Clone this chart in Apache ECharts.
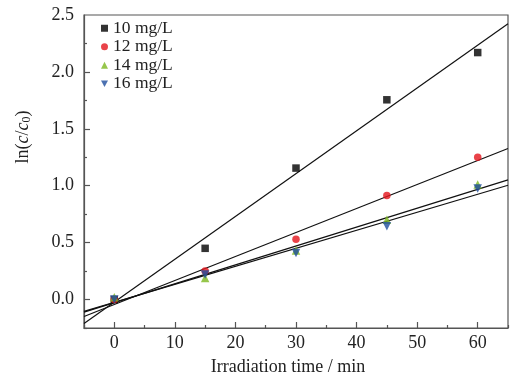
<!DOCTYPE html>
<html>
<head>
<meta charset="utf-8">
<script src="https://cdn.jsdelivr.net/npm/echarts@6/dist/echarts.min.js"></script>
<style>html,body{margin:0;padding:0;background:#fff}#c{width:529px;height:384px}</style>
</head>
<body>
<div id="c"></div>
<script>
var times = [0, 15, 30, 45, 60];
var seriesNames = ['10 mg/L', '12 mg/L', '14 mg/L', '16 mg/L'];
var y10 = [0.00, 0.45, 1.155, 1.755, 2.17];
var y12 = [0.00, 0.25, 0.53, 0.915, 1.25];
var y14 = [0.02, 0.19, 0.43, 0.70, 1.01];
var y16 = [0.00, 0.22, 0.41, 0.645, 0.975];
var xRange = [-5, 65];
var xLabelStep = 10;
var yRange = [-0.25, 2.5];
var yLabelStep = 0.5;

var colors = ['#000000', '#e3141c', '#7cb81e', '#1f4e9e'];
var downTri = 'path://M0,0 L10,0 L5,9 Z';
var symbols = ['rect', 'circle', 'triangle', downTri];
var sizes = [7.5, 7.5, 8.5, 8.5];
var allY = [y10, y12, y14, y16];

function fit(xs, ys) {
  var n = xs.length, mx = 0, my = 0;
  for (var i = 0; i < n; i++) { mx += xs[i]; my += ys[i]; }
  mx /= n; my /= n;
  var sxy = 0, sxx = 0;
  for (var j = 0; j < n; j++) { sxy += (xs[j]-mx)*(ys[j]-my); sxx += (xs[j]-mx)*(xs[j]-mx); }
  var b = sxy / sxx;
  return { b: b, a: my - b*mx };
}
function isMult(v, step) { var r = v / step; return Math.abs(r - Math.round(r)) < 1e-6; }

var FONT = '"Liberation Serif", "Times New Roman", serif';
var series = [];
allY.forEach(function (ys, k) {
  var f = fit(times, ys);
  series.push({
    name: 'fit' + k, type: 'line', xAxisIndex: 0, yAxisIndex: 0,
    data: [[xRange[0], f.a + f.b*xRange[0]], [xRange[1], f.a + f.b*xRange[1]]],
    symbol: 'none', lineStyle: { color: '#111', width: 1.2 }, silent: true, z: 2, clip: true
  });
});
allY.forEach(function (ys, k) {
  series.push({
    name: seriesNames[k], type: 'scatter', xAxisIndex: 0, yAxisIndex: 0,
    data: times.map(function (t, i) { return [t, ys[i]]; }),
    symbol: symbols[k], symbolSize: sizes[k],
    itemStyle: { color: colors[k] }, z: 3 + k
  });
});

var GL = 84, GR = 21, GT = 15, GB = 56, H = 384;
var pxPerY = (H - GT - GB) / (yRange[1] - yRange[0]);
var ax = { color: '#555', width: 1.2 };
var chart = echarts.init(document.getElementById('c'));
chart.setOption({
  animation: false,
  grid: [
    { left: GL, right: GR, top: GT, bottom: GB, show: true, borderColor: '#555', borderWidth: 1.2 },
    { left: GL, right: GR, top: GT + pxPerY * yLabelStep / 2, bottom: GB, show: false }
  ],
  legend: {
    data: seriesNames.map(function (n, k) { return { name: n, icon: symbols[k] }; }),
    orient: 'vertical', left: 96, top: 14, itemWidth: 7, itemHeight: 7, itemGap: 0,
    textStyle: { fontFamily: FONT, fontSize: 17.5, color: '#222', lineHeight: 18.5, padding: [0, 0, 0, 0] }
  },
  xAxis: [{
    gridIndex: 0, type: 'value', min: xRange[0], max: xRange[1], interval: xLabelStep / 2,
    name: 'Irradiation time / min', nameLocation: 'middle', nameGap: 30,
    nameTextStyle: { fontFamily: FONT, fontSize: 18, color: '#222', padding: [0, 16, 0, 0] },
    axisLine: { show: true, onZero: false, lineStyle: ax },
    axisTick: { show: false },
    axisLabel: { fontFamily: FONT, fontSize: 18, color: '#222', margin: 6, showMinLabel: true, showMaxLabel: true,
      formatter: function (v) { return isMult(v, xLabelStep) ? String(v) : ''; } },
    splitLine: { show: false }
  }, {
    gridIndex: 0, type: 'value', min: xRange[0], max: xRange[1], interval: xLabelStep, position: 'bottom',
    axisLine: { show: false, onZero: false },
    axisTick: { show: true, inside: true, length: 3, lineStyle: ax },
    minorTick: { show: true, splitNumber: 2, length: 6, lineStyle: ax },
    axisLabel: { show: false }, splitLine: { show: false }
  }, {
    gridIndex: 1, type: 'value', min: xRange[0], max: xRange[1], show: false
  }],
  yAxis: [{
    gridIndex: 0, type: 'value', min: yRange[0], max: yRange[1], interval: yLabelStep / 2,
    axisLine: { show: true, onZero: false, lineStyle: ax },
    axisTick: { show: false },
    axisLabel: { fontFamily: FONT, fontSize: 18, color: '#222', margin: 10, showMinLabel: true, showMaxLabel: true,
      formatter: function (v) { return isMult(v, yLabelStep) ? v.toFixed(1) : ''; } },
    splitLine: { show: false }
  }, {
    gridIndex: 1, type: 'value', min: yRange[0], max: yRange[1] - yLabelStep / 2, interval: yLabelStep, position: 'left',
    axisLine: { show: false, onZero: false },
    axisTick: { show: true, inside: true, length: 3, lineStyle: ax },
    minorTick: { show: true, splitNumber: 2, length: 6, lineStyle: ax },
    axisLabel: { show: false }, splitLine: { show: false }
  }],
  graphic: [{
    type: 'text', x: 23, y: 137, rotation: Math.PI / 2,
    style: {
      text: 'ln({i|c}/{i|c}{s|0})', align: 'center', verticalAlign: 'middle',
      fontFamily: FONT, fontSize: 18, fill: '#222',
      rich: {
        i: { fontFamily: FONT, fontSize: 18, fontStyle: 'italic', fill: '#222' },
        s: { fontFamily: FONT, fontSize: 12, fill: '#222', verticalAlign: 'bottom', padding: [8, 0, 0, 0] }
      }
    }
  }],
  series: series
});
</script>
</body>
</html>
